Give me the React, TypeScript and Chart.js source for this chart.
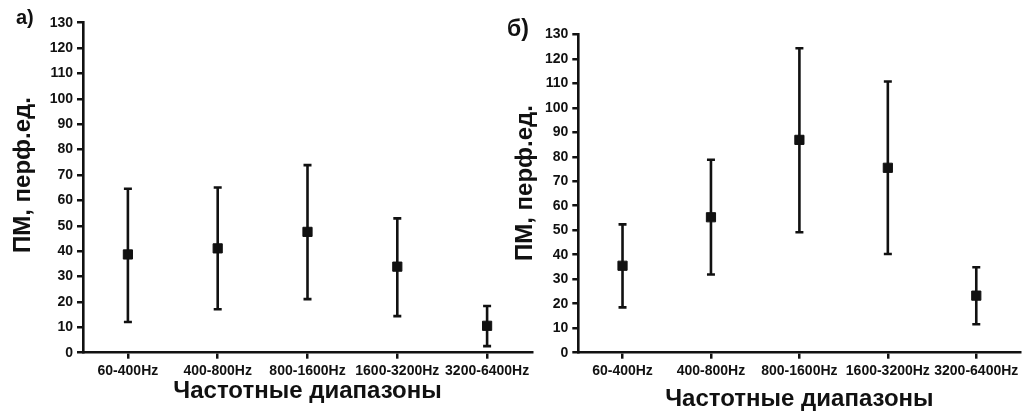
import React, { useEffect, useRef } from "react";
import { Chart, registerables } from "chart.js";

Chart.register(...registerables);

// ---- data ----
const categories = ["60-400Hz", "400-800Hz", "800-1600Hz", "1600-3200Hz", "3200-6400Hz"];
const meanA = [38.7, 41.1, 47.6, 33.9, 10.6];
const highA = [64.6, 65.1, 73.9, 52.9, 18.4];
const lowA = [12.1, 17.1, 21.1, 14.4, 2.6];
const meanB = [35.5, 55.3, 86.9, 75.5, 23.3];
const highB = [52.4, 78.8, 124.3, 110.7, 34.9];
const lowB = [18.5, 31.9, 49.2, 40.3, 11.6];
const yMin = 0;
const yMax = 130;
const yStep = 10;
const yTitle = "ПМ, перф.ед.";
const xTitle = "Частотные диапазоны";
const labelA = "а)";
const labelB = "б)";

const FONT = "'Liberation Sans', Arial, sans-serif";
const INK = "#111111";

const errorBarPlugin = {
  id: "errorBars",
  beforeDatasetsDraw(chart: any, _args: any, opts: any) {
    const { ctx } = chart;
    const xs = chart.scales.x;
    const ys = chart.scales.y;
    ctx.save();
    ctx.strokeStyle = opts.color;
    ctx.lineWidth = opts.lineWidth;
    ctx.lineCap = "butt";
    (opts.low as number[]).forEach((lo, i) => {
      const hi = (opts.high as number[])[i];
      const px = xs.getPixelForValue(i);
      const pLo = ys.getPixelForValue(lo);
      const pHi = ys.getPixelForValue(hi);
      const c = opts.capHalf;
      ctx.beginPath();
      ctx.moveTo(px, pLo);
      ctx.lineTo(px, pHi);
      ctx.moveTo(px - c, pLo);
      ctx.lineTo(px + c, pLo);
      ctx.moveTo(px - c, pHi);
      ctx.lineTo(px + c, pHi);
      ctx.stroke();
    });
    ctx.restore();
  },
};

const panelTextPlugin = {
  id: "panelText",
  afterDraw(chart: any, _args: any, opts: any) {
    const { ctx } = chart;
    ctx.save();
    ctx.fillStyle = INK;
    ctx.font = `bold ${opts.size}px ${FONT}`;
    ctx.textBaseline = "alphabetic";
    ctx.textAlign = "left";
    ctx.fillText(opts.text, opts.x, opts.y);
    // rotated y-axis title
    ctx.translate(opts.yTitleX, opts.yTitleY);
    ctx.rotate(-Math.PI / 2);
    ctx.font = `bold 24px ${FONT}`;
    ctx.textAlign = "center";
    ctx.textBaseline = "middle";
    ctx.fillText(yTitle, 0, 0);
    ctx.restore();
  },
};

type PanelProps = {
  left: number;
  width: number;
  mean: number[];
  low: number[];
  high: number[];
  yAxisW: number;
  padTop: number;
  padRight: number;
  xAxisH: number;
  xTitlePad: number;
  yTitleX: number;
  yTitleY: number;
  label: string;
  labelX: number;
  labelY: number;
  labelSize: number;
};

function Panel(p: PanelProps) {
  const ref = useRef<HTMLCanvasElement>(null);
  useEffect(() => {
    if (!ref.current) return;
    const chart = new Chart(ref.current, {
      type: "line",
      data: {
        labels: categories,
        datasets: [
          {
            data: p.mean,
            showLine: false,
            pointStyle: "rect",
            pointRadius: 6.5,
            pointHoverRadius: 6.5,
            pointBackgroundColor: INK,
            pointBorderColor: INK,
            pointBorderWidth: 1,
          },
        ],
      },
      options: {
        responsive: false,
        animation: false,
        events: [],
        layout: { padding: { top: p.padTop, right: p.padRight, left: 0, bottom: 0 } },
        plugins: {
          legend: { display: false },
          tooltip: { enabled: false },
          errorBars: { low: p.low, high: p.high, color: INK, lineWidth: 2.6, capHalf: 4 },
          panelText: {
            text: p.label,
            x: p.labelX,
            y: p.labelY,
            size: p.labelSize,
            yTitleX: p.yTitleX,
            yTitleY: p.yTitleY,
          },
        } as any,
        scales: {
          x: {
            type: "category",
            offset: true,
            grid: {
              display: true,
              drawOnChartArea: false,
              drawTicks: true,
              tickLength: 6,
              color: INK,
              lineWidth: 2.5,
              offset: false,
            },
            border: { display: true, color: INK, width: 2.6 },
            ticks: {
              color: INK,
              font: { family: FONT, size: 14, weight: "bold" },
              padding: 4,
              maxRotation: 0,
              autoSkip: false,
            },
            title: {
              display: true,
              text: xTitle,
              color: INK,
              font: { family: FONT, size: 24, weight: "bold" },
              padding: { top: 0, bottom: p.xTitlePad },
            },
            afterFit: (s: any) => {
              s.height = p.xAxisH;
            },
          },
          y: {
            min: yMin,
            max: yMax,
            grid: {
              display: true,
              drawOnChartArea: false,
              drawTicks: true,
              tickLength: 6,
              color: INK,
              lineWidth: 2.5,
            },
            border: { display: true, color: INK, width: 2.6 },
            ticks: {
              stepSize: yStep,
              color: INK,
              font: { family: FONT, size: 14, weight: "bold" },
              padding: 4,
            },
            afterFit: (s: any) => {
              s.width = p.yAxisW;
            },
          },
        },
      },
      plugins: [errorBarPlugin, panelTextPlugin],
    } as any);
    return () => chart.destroy();
  }, []);
  return (
    <canvas
      ref={ref}
      width={p.width}
      height={414}
      style={{ position: "absolute", left: p.left, top: 0, width: p.width, height: 414 }}
    />
  );
}

export default function App() {
  return (
    <div
      style={{
        position: "fixed",
        left: 0,
        top: 0,
        width: 1028,
        height: 414,
        background: "#ffffff",
        overflow: "hidden",
      }}
    >
      <Panel
        left={0}
        width={540}
        mean={meanA}
        low={lowA}
        high={highA}
        yAxisW={83}
        padTop={22.7}
        padRight={8}
        xAxisH={61.3}
        xTitlePad={8.6}
        yTitleX={23}
        yTitleY={175}
        label={labelA}
        labelX={16}
        labelY={24}
        labelSize={20}
      />
      <Panel
        left={500}
        width={528}
        mean={meanB}
        low={lowB}
        high={highB}
        yAxisW={78.3}
        padTop={34.3}
        padRight={1.5}
        xAxisH={61.3}
        xTitlePad={0.6}
        yTitleX={25}
        yTitleY={183}
        label={labelB}
        labelX={7}
        labelY={36}
        labelSize={23}
      />
    </div>
  );
}
